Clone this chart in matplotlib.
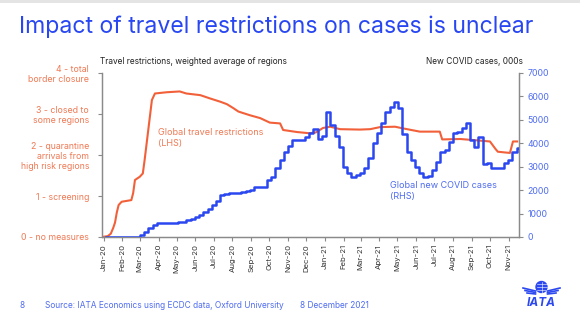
import matplotlib
matplotlib.use('Agg')
import matplotlib.pyplot as plt
import matplotlib.dates as mdates
import matplotlib.patches as mpatches
import pandas as pd

plt.rcParams['font.family'] = ['Inter', 'DejaVu Sans']

# travel restrictions index (LHS)
restr_dates = ['2019-12-29', '2020-01-08', '2020-01-13', '2020-01-17', '2020-01-20', '2020-01-23',
               '2020-01-26', '2020-01-31', '2020-02-16', '2020-02-19', '2020-02-22', '2020-03-01',
               '2020-03-06', '2020-03-09', '2020-03-15', '2020-03-21', '2020-03-26', '2020-04-14',
               '2020-05-06', '2020-05-17', '2020-06-09', '2020-06-25', '2020-07-12', '2020-07-23',
               '2020-08-03', '2020-08-11', '2020-08-30', '2020-09-16', '2020-10-02', '2020-10-19',
               '2020-10-24', '2020-11-16', '2020-12-07', '2020-12-17', '2020-12-29', '2021-01-10',
               '2021-01-26', '2021-02-28', '2021-03-17', '2021-04-02', '2021-04-27', '2021-05-10',
               '2021-06-07', '2021-07-10', '2021-07-14', '2021-08-13', '2021-09-15', '2021-10-01',
               '2021-10-10', '2021-10-14', '2021-11-03', '2021-11-08', '2021-11-15']
restr_vals = [0.0, 0.02, 0.08, 0.22, 0.35, 0.6,
              0.78, 0.86, 0.9, 1.07, 1.39, 1.47,
              1.55, 1.88, 2.61, 3.34, 3.5, 3.53,
              3.55, 3.5, 3.46, 3.38, 3.3, 3.24,
              3.14, 3.06, 2.97, 2.9, 2.79, 2.77,
              2.61, 2.56, 2.53, 2.55, 2.66, 2.69,
              2.63, 2.62, 2.63, 2.68, 2.69, 2.65,
              2.57, 2.57, 2.38, 2.39, 2.35, 2.33,
              2.15, 2.08, 2.05, 2.33, 2.33]

# weekly new covid cases, 000s (RHS), weeks starting 5 Jan 2020
cases_start = '2020-01-05'
cases_vals = [0, 0, 0, 0, 2, 3, 5, 15, 80, 230,
              380, 520, 580, 585, 590, 595, 600, 620, 660, 720,
              780, 860, 950, 1080, 1200, 1350, 1550, 1790, 1850, 1860,
              1865, 1870, 1930, 1950, 2000, 2120, 2130, 2130, 2430, 2575,
              2930, 3290, 3640, 3900, 4140, 4140, 4140, 4280, 4425, 4600,
              4170, 4310, 5350, 4760, 4300, 3850, 3000, 2720, 2575, 2640,
              2720, 2930, 3360, 4000, 4425, 4850, 5350, 5560, 5780, 5490,
              4400, 3640, 3290, 3000, 2720, 2550, 2600, 2860, 3210, 3640,
              3710, 4070, 4425, 4490, 4640, 4880, 4140, 3855, 4280, 3100,
              3150, 2930, 2930, 2930, 3140, 3290, 3640, 3790]

left_ticks = [0, 1, 2, 3, 4]
left_labels = ['0 - no measures', '1 - screening', '2 - quarantine\narrivals from\nhigh risk regions',
               '3 - closed to\nsome regions', '4 - total\nborder closure']
right_ticks = [0, 1000, 2000, 3000, 4000, 5000, 6000, 7000]

ORANGE = '#F2603A'
ORANGE_TXT = '#EF7A55'
BLUE = '#2B48F0'
BLUE_TXT = '#4F6CF0'
TITLE_BLUE = '#2847F2'
GREY = '#8a8a8a'

W, H = 580, 326
fig = plt.figure(figsize=(W / 100, H / 100), dpi=100)
fig.patch.set_facecolor('white')

ax = fig.add_axes([101.7 / W, 1 - 237 / H, (519 - 101.7) / W, (237 - 73) / H])
ax2 = ax.twinx()

rd = pd.to_datetime(restr_dates)
ax.plot(rd, restr_vals, color=ORANGE, lw=1.5, zorder=2)

cd = list(pd.date_range(cases_start, periods=len(cases_vals), freq='7D'))
cd.append(pd.Timestamp('2021-11-17'))
cv = cases_vals + [cases_vals[-1]]
ax2.plot(cd, cv, color=BLUE, lw=1.8, drawstyle='steps-post', zorder=3)

ax.set_xlim(pd.Timestamp('2019-12-29'), pd.Timestamp('2021-11-18'))
ax.set_ylim(0, 4)
ax2.set_ylim(0, 7000)

ax.set_yticks(left_ticks)
ax.set_yticklabels(left_labels, color=ORANGE_TXT, fontsize=6.3, ha='right', multialignment='right',
                   linespacing=1.15)
ax2.set_yticks(right_ticks)
ax2.set_yticklabels([str(t) for t in right_ticks], color=BLUE_TXT, fontsize=6.3)

ax.xaxis.set_major_locator(mdates.MonthLocator())
ax.xaxis.set_major_formatter(mdates.DateFormatter('%b-%y'))
for lab in ax.get_xticklabels():
    lab.set_rotation(90)
    lab.set_fontsize(5.6)
    lab.set_color('#333333')

for a in (ax, ax2):
    a.spines['top'].set_visible(False)
    for s in ('left', 'right', 'bottom'):
        a.spines[s].set_color(GREY)
        a.spines[s].set_linewidth(0.9)
    a.tick_params(axis='both', color=GREY, length=3, width=0.8, pad=2)
ax.tick_params(axis='y', pad=6)
ax2.tick_params(axis='y', pad=3)

# title and axis captions
fig.text(19 / W, 1 - 33 / H, 'Impact of travel restrictions on cases is unclear', color=TITLE_BLUE,
         fontsize=16.6, va='baseline', ha='left')
fig.text(100 / W, 1 - 61 / H, 'Travel restrictions, weighted average of regions', color='#222222',
         fontsize=6, va='center', ha='left')
fig.text(523 / W, 1 - 61 / H, 'New COVID cases, 000s', color='#222222', fontsize=6,
         va='center', ha='right')

fig.text(158 / W, 1 - 138 / H, 'Global travel restrictions\n(LHS)', color=ORANGE_TXT, fontsize=6.5,
         va='center', ha='left', linespacing=1.4)
fig.text(390 / W, 1 - 191 / H, 'Global new COVID cases\n(RHS)', color=BLUE_TXT, fontsize=6.5,
         va='center', ha='left', linespacing=1.4)

# footer
fig.text(20 / W, 1 - 305 / H, '8', color=BLUE_TXT, fontsize=6, va='center', ha='left')
fig.text(45 / W, 1 - 305 / H, 'Source: IATA Economics using ECDC data, Oxford University',
         color=BLUE_TXT, fontsize=6, va='center', ha='left')
fig.text(300 / W, 1 - 305 / H, '8 December 2021', color=BLUE_TXT, fontsize=6, va='center', ha='left')

# IATA logo (globe, wings, letters)
lg = fig.add_axes([0, 0, 1, 1], zorder=-1)
lg.set_xlim(0, W)
lg.set_ylim(H, 0)
lg.axis('off')
lg.add_patch(mpatches.Circle((541.5, 287), 5.5, color=BLUE))
for yy in (284, 287, 290):
    lg.plot([536.5, 546.5], [yy, yy], color='white', lw=0.4)
lg.plot([541.5, 541.5], [281.5, 292.5], color='white', lw=0.4)
for i, dy in enumerate((0, 2.5, 5)):
    lg.plot([523 + i * 2, 535.5], [288 + dy, 291 + dy * 0.6], color=BLUE, lw=1.2)
    lg.plot([560 - i * 2, 547.5], [288 + dy, 291 + dy * 0.6], color=BLUE, lw=1.2)
lg.text(541.5, 302.5, 'IATA', color=BLUE, fontsize=8.5, fontweight='bold', style='italic',
        ha='center', va='center')
lg.add_patch(mpatches.Rectangle((0, 0), W, 3, color='#e4e4e4', lw=0))

fig.savefig('out.png', dpi=100, facecolor='white')
